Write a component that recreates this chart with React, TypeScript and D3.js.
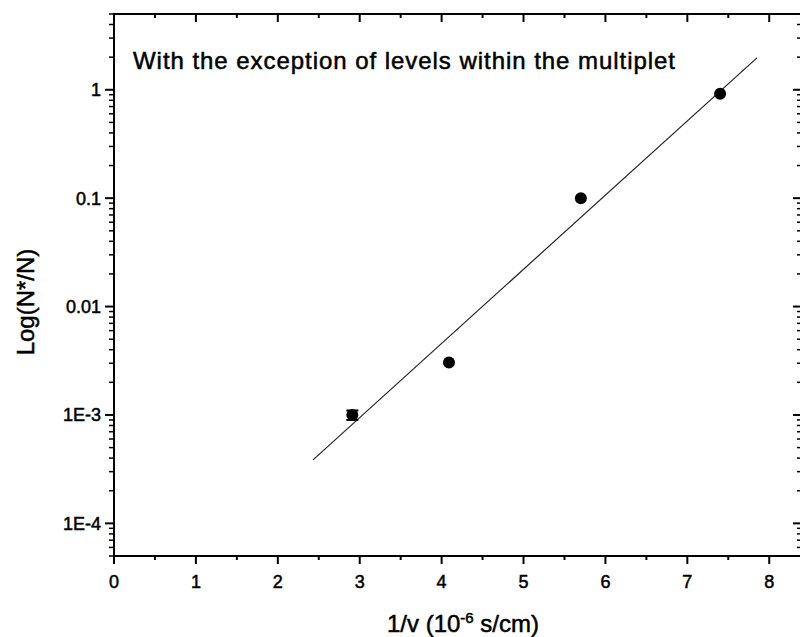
import React from "react";
import * as d3 from "d3";

const xValues = [2.91, 4.09, 5.7, 7.4];
const yValues = [1.0e-3, 3.05e-3, 0.1, 0.92];
const yErrLow = [0.9e-3, 3.05e-3, 0.1, 0.92];
const yErrHigh = [1.1e-3, 3.05e-3, 0.1, 0.92];
const fitX = [2.43, 7.85];
const fitY = [3.85e-4, 1.97];
const xTicks = [0, 1, 2, 3, 4, 5, 6, 7, 8];
const yTicks = [1e-4, 1e-3, 0.01, 0.1, 1];
const yTickLabels = ["1E-4", "1E-3", "0.01", "0.1", "1"];
const title = "With the exception of levels within the multiplet";

export default function App() {
  const W = 800, H = 637;
  const left = 114, right = 802, top = 14, bottom = 556;
  const x = d3.scaleLinear().domain([0, 8.4]).range([left, right]);
  const y = d3.scaleLog().domain([5e-5, 5]).range([bottom, top]);
  const xMinor = d3.range(0.5, 8.5, 1);
  const yMinor: number[] = [];
  for (let e = -5; e <= 0; e++) {
    for (let m = 2; m <= 9; m++) {
      const v = m * Math.pow(10, e);
      if (v >= 5e-5 && v <= 5) yMinor.push(v);
    }
  }
  const line = d3.line<number>().x((d, i) => x(fitX[i])).y((d, i) => y(fitY[i]));
  const font = "Arial, 'Liberation Sans', sans-serif";
  const ts = { stroke: "#000", strokeWidth: 0.5 };
  return (
    <svg width={W} height={H} style={{ position: "absolute", left: 0, top: 0, background: "#fff" }}>
      <rect x={0} y={0} width={W} height={H} fill="#fff" />
      <rect x={left} y={top} width={right - left} height={bottom - top} fill="none" stroke="#000" strokeWidth={2} />
      {xTicks.map((t) => (
        <g key={"xt" + t}>
          <line x1={x(t)} x2={x(t)} y1={bottom} y2={bottom + 8} stroke="#000" strokeWidth={2} />
          <line x1={x(t)} x2={x(t)} y1={top} y2={top + 8} stroke="#000" strokeWidth={2} />
          <text x={x(t)} y={588} textAnchor="middle" fontSize={18} fontFamily={font} {...ts}>{t}</text>
        </g>
      ))}
      {xMinor.map((t) => (
        <g key={"xm" + t}>
          <line x1={x(t)} x2={x(t)} y1={bottom} y2={bottom + 4} stroke="#000" strokeWidth={2} />
          <line x1={x(t)} x2={x(t)} y1={top} y2={top + 4} stroke="#000" strokeWidth={2} />
        </g>
      ))}
      {yTicks.map((t, i) => (
        <g key={"yt" + t}>
          <line x1={left - 9} x2={left} y1={y(t)} y2={y(t)} stroke="#000" strokeWidth={2} />
          <line x1={right - 9} x2={right} y1={y(t)} y2={y(t)} stroke="#000" strokeWidth={2} />
          <text x={101} y={y(t) + 6.5} textAnchor="end" fontSize={18} fontFamily={font} {...ts}>{yTickLabels[i]}</text>
        </g>
      ))}
      {yMinor.map((t) => (
        <g key={"ym" + t}>
          <line x1={left - 5} x2={left} y1={y(t)} y2={y(t)} stroke="#000" strokeWidth={1.5} />
          <line x1={right - 5} x2={right} y1={y(t)} y2={y(t)} stroke="#000" strokeWidth={1.5} />
        </g>
      ))}
      <path d={line(fitX) || ""} fill="none" stroke="#222" strokeWidth={1.2} />
      {xValues.map((xv, i) => (
        yErrHigh[i] > yErrLow[i] ? (
          <g key={"eb" + i}>
            <line x1={x(xv)} x2={x(xv)} y1={y(yErrLow[i])} y2={y(yErrHigh[i])} stroke="#000" strokeWidth={1.5} />
            <line x1={x(xv) - 6} x2={x(xv) + 6} y1={y(yErrLow[i])} y2={y(yErrLow[i])} stroke="#000" strokeWidth={2} />
            <line x1={x(xv) - 6} x2={x(xv) + 6} y1={y(yErrHigh[i])} y2={y(yErrHigh[i])} stroke="#000" strokeWidth={2} />
          </g>
        ) : null
      ))}
      {xValues.map((xv, i) => (
        <circle key={"p" + i} cx={x(xv)} cy={y(yValues[i])} r={6} fill="#000" />
      ))}
      <text x={133} y={69} fontSize={24} fontFamily={font} textLength={542} lengthAdjust="spacing" {...ts}>{title}</text>
      <text x={463} y={632} textAnchor="middle" fontSize={24} fontFamily={font} {...ts}>
        1/v (10<tspan dy={-9} fontSize={15}>-6</tspan><tspan dy={9}> s/cm)</tspan>
      </text>
      <text transform="translate(34, 302) rotate(-90)" textAnchor="middle" fontSize={24} fontFamily={font} {...ts}>
        Log(N*/N)
      </text>
    </svg>
  );
}
